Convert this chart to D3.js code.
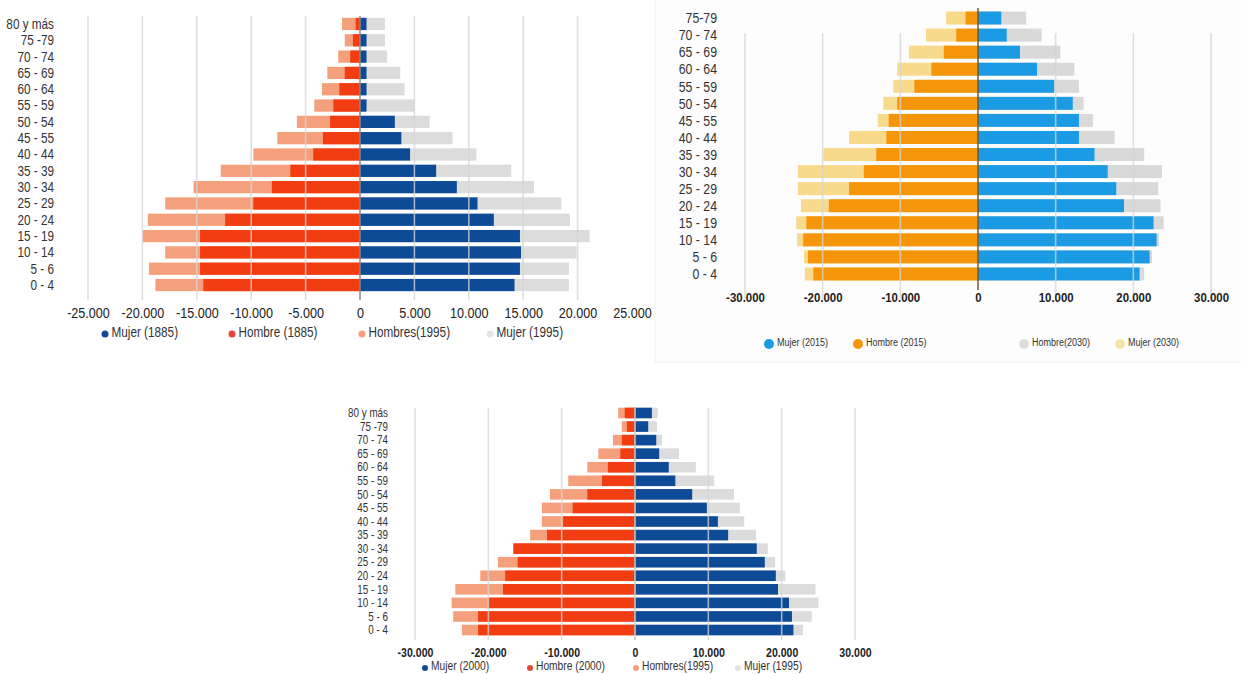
<!DOCTYPE html>
<html>
<head>
<meta charset="utf-8">
<script src="https://cdn.jsdelivr.net/npm/d3@7"></script>
<style>
  body { margin: 0; background: #fff; }
  svg { display: block; }
  svg text { font-family: 'Liberation Sans', Arial, sans-serif; }
</style>
</head>
<body>
<svg id="chart" width="1241" height="674"></svg>
<script>
// ---- categories (top to bottom)
const ages = ["80 y más", "75 -79", "70 - 74", "65 - 69", "60 - 64", "55 - 59", "50 - 54", "45 - 55",
              "40 - 44", "35 - 39", "30 - 34", "25 - 29", "20 - 24", "15 - 19", "10 - 14", "5 - 6", "0 - 4"];
const ages2 = ["75-79", "70 - 74", "65 - 69", "60 - 64", "55 - 59", "50 - 54", "45 - 55",
               "40 - 44", "35 - 39", "30 - 34", "25 - 29", "20 - 24", "15 - 19", "10 - 14", "5 - 6", "0 - 4"];

// ---- chart 1 (1885 vs 1995)
const hombre1885 = [400, 650, 900, 1400, 1900, 2450, 2750, 3400, 4300, 6400, 8100, 9800, 12400, 14700, 14700, 14700, 14400];
const hombres1995a = [1650, 1400, 2000, 3000, 3500, 4200, 5800, 7600, 9800, 12800, 15300, 17900, 19500, 20000, 17900, 19400, 18800];
const mujer1885 = [600, 600, 600, 600, 600, 600, 3200, 3800, 4600, 7000, 8900, 10800, 12300, 14700, 14800, 14700, 14200];
const mujer1995a = [2300, 2300, 2500, 3700, 4100, 5000, 6400, 8500, 10700, 13900, 16000, 18500, 19300, 21100, 19900, 19200, 19200];
const ticks1 = [-25000, -20000, -15000, -10000, -5000, 0, 5000, 10000, 15000, 20000, 25000];

// ---- chart 2 (2015 vs 2030)
const hombre2015 = [1600, 2800, 4400, 6000, 8200, 10400, 11500, 11800, 13100, 14700, 16600, 19200, 22100, 22500, 21900, 21200];
const mujer2030 = [4100, 6700, 8900, 10400, 10900, 12200, 12900, 16600, 19900, 23200, 23200, 22800, 23400, 23300, 22400, 22300];
const mujer2015 = [3000, 3700, 5400, 7600, 9800, 12200, 13000, 13000, 15000, 16700, 17800, 18800, 22600, 23000, 22100, 20800];
const hombre2030 = [6200, 8200, 10600, 12400, 13000, 13600, 14800, 17600, 21400, 23700, 23200, 23500, 23900, 23300, 22400, 21400];
const ticks2 = [-30000, -20000, -10000, 0, 10000, 20000, 30000];

// ---- chart 3 (2000 vs 1995)
const hombre2000 = [1400, 1100, 1800, 2000, 3700, 4500, 6500, 8500, 9800, 12000, 16600, 16000, 17700, 18000, 20000, 21400, 21400];
const hombres1995b = [2300, 1800, 3000, 5000, 6500, 9100, 11600, 12700, 12700, 14300, 16400, 18700, 21100, 24500, 25000, 24800, 23600];
const mujer2000 = [2300, 1800, 2900, 3300, 4600, 5500, 7800, 9800, 11300, 12700, 16600, 17700, 19200, 19500, 21000, 21400, 21600];
const mujer1995b = [3100, 3000, 3700, 6000, 8300, 10800, 13500, 14300, 14900, 16500, 18100, 19100, 20500, 24600, 25000, 24100, 22900];
const ticks3 = [-30000, -20000, -10000, 0, 10000, 20000, 30000];

const fmt = d3.formatLocale({decimal: ",", thousands: ".", grouping: [3], currency: ["", ""], minus: "-"}).format(",d");

const svg = d3.select("#chart");

// light panel behind the top-right chart
svg.append("rect")
  .attr("x", 655).attr("y", -1).attr("width", 590).attr("height", 363)
  .attr("fill", "#fdfdfd").attr("stroke", "#f2f2f2");

// squeeze text horizontally (the source uses a condensed face)
function squeeze(sel, sx) {
  sel.attr("transform", function() {
    const x = +d3.select(this).attr("x") || 0;
    const y = +d3.select(this).attr("y") || 0;
    d3.select(this).attr("x", 0).attr("y", 0);
    return `translate(${x},${y}) scale(${sx},1)`;
  });
}

function pyramid(cfg) {
  const g = svg.append("g");
  const x = d3.scaleLinear().domain(cfg.domain).range(cfg.xRange);
  const y = d3.scaleBand().domain(cfg.cats).range(cfg.yRange).paddingInner(cfg.pad).paddingOuter(cfg.pad / 2);

  // background series
  g.append("g").selectAll("rect").data(cfg.leftBack).join("rect")
    .attr("x", d => x(-d)).attr("width", d => x(0) - x(-d))
    .attr("y", (d, i) => y(cfg.cats[i])).attr("height", y.bandwidth())
    .attr("fill", cfg.colors.leftBack);
  g.append("g").selectAll("rect").data(cfg.rightBack).join("rect")
    .attr("x", x(0)).attr("width", d => x(d) - x(0))
    .attr("y", (d, i) => y(cfg.cats[i])).attr("height", y.bandwidth())
    .attr("fill", cfg.colors.rightBack);
  // front series
  g.append("g").selectAll("rect").data(cfg.leftFront).join("rect")
    .attr("x", d => x(-d)).attr("width", d => x(0) - x(-d))
    .attr("y", (d, i) => y(cfg.cats[i])).attr("height", y.bandwidth())
    .attr("fill", cfg.colors.leftFront);
  g.append("g").selectAll("rect").data(cfg.rightFront).join("rect")
    .attr("x", x(0)).attr("width", d => x(d) - x(0))
    .attr("y", (d, i) => y(cfg.cats[i])).attr("height", y.bandwidth())
    .attr("fill", cfg.colors.rightFront);

  // gridlines
  g.append("g").selectAll("line").data(cfg.grid.filter(d => d !== 0)).join("line")
    .attr("x1", d => x(d)).attr("x2", d => x(d))
    .attr("y1", cfg.gridY[0]).attr("y2", cfg.gridY[1])
    .attr("stroke", "#d4d4d4").attr("stroke-opacity", 0.75).attr("stroke-width", 1.6);
  g.append("line")
    .attr("x1", x(0)).attr("x2", x(0))
    .attr("y1", cfg.zeroY[0]).attr("y2", cfg.zeroY[1])
    .attr("stroke", cfg.zeroColor).attr("stroke-width", 1.5);

  // category labels
  g.append("g").selectAll("text").data(cfg.cats).join("text")
    .attr("x", cfg.labelX).attr("y", d => y(d) + y.bandwidth() / 2)
    .attr("dy", "0.35em").attr("text-anchor", "end")
    .style("font-size", cfg.labelSize + "px").attr("fill", "#333")
    .text(d => d)
    .call(squeeze, cfg.sx);

  // x axis
  g.append("g")
    .attr("transform", `translate(0,${cfg.axisY})`)
    .call(d3.axisBottom(x).tickValues(cfg.ticks).tickFormat(fmt).tickSize(0))
    .call(a => a.select(".domain").remove())
    .selectAll("text")
    .attr("font-family", null)
    .style("font-size", cfg.tickSize + "px")
    .style("font-weight", cfg.tickWeight || "normal").attr("fill", "#222")
    .call(squeeze, cfg.tickSx);

  // legend
  const lg = g.append("g");
  cfg.legend.forEach(l => {
    lg.append("circle").attr("cx", l.x).attr("cy", cfg.legendY + 2).attr("r", cfg.dotR).attr("fill", l.color);
    lg.append("text").attr("x", l.x + cfg.dotR + 3).attr("y", cfg.legendY).attr("dy", "0.35em")
      .style("font-size", cfg.legendSize + "px").attr("fill", "#333")
      .text(l.label)
      .call(squeeze, cfg.sx);
  });
}

const red = "#f23c12", salmon = "#f5a07c", navy = "#0d4b96", lgrey = "#dcdcdc";

pyramid({
  cats: ages, domain: [-25000, 25000], xRange: [88, 632], yRange: [15.8, 293.2], pad: 0.25,
  leftFront: hombre1885, leftBack: hombres1995a, rightFront: mujer1885, rightBack: mujer1995a,
  colors: {leftFront: red, leftBack: salmon, rightFront: navy, rightBack: lgrey},
  grid: [-25000, -20000, -15000, -10000, -5000, 5000, 10000, 15000, 20000],
  gridY: [16, 300], zeroY: [16, 300], zeroColor: "#8a8a8a",
  labelX: 54, labelSize: 14, sx: 0.84, ticks: ticks1, axisY: 304, tickSize: 15, tickSx: 0.84,
  legendY: 332, legendSize: 14, dotR: 3.5,
  legend: [
    {label: "Mujer (1885)", color: navy, x: 105},
    {label: "Hombre (1885)", color: "#e0463a", x: 232},
    {label: "Hombres(1995)", color: salmon, x: 362},
    {label: "Mujer (1995)", color: "#e4e4e4", x: 490}
  ]
});

const orange = "#f5960a", yellow = "#f8da8c", sky = "#1b9be3", grey2 = "#d9d9d9";

pyramid({
  cats: ages2, domain: [-30000, 30000], xRange: [745, 1211], yRange: [9.5, 282.5], pad: 0.24,
  leftFront: hombre2015, leftBack: mujer2030, rightFront: mujer2015, rightBack: hombre2030,
  colors: {leftFront: orange, leftBack: yellow, rightFront: sky, rightBack: grey2},
  grid: [-30000, -20000, -10000, 10000, 20000, 30000],
  gridY: [33, 300], zeroY: [8, 290], zeroColor: "#7a5632",
  labelX: 717, labelSize: 15, sx: 0.82, ticks: ticks2, axisY: 290, tickSize: 13, tickSx: 0.88, tickWeight: "bold",
  legendY: 342, legendSize: 11, dotR: 5,
  legend: [
    {label: "Mujer (2015)", color: sky, x: 769},
    {label: "Hombre (2015)", color: orange, x: 858},
    {label: "Hombre(2030)", color: "#dedede", x: 1024},
    {label: "Mujer (2030)", color: "#f3e6a6", x: 1120}
  ]
});

pyramid({
  cats: ages, domain: [-30000, 30000], xRange: [415, 855], yRange: [406.2, 636.8], pad: 0.22,
  leftFront: hombre2000, leftBack: hombres1995b, rightFront: mujer2000, rightBack: mujer1995b,
  colors: {leftFront: red, leftBack: salmon, rightFront: navy, rightBack: lgrey},
  grid: [-30000, -20000, -10000, 10000, 20000, 30000],
  gridY: [408, 640], zeroY: [408, 640], zeroColor: "#c8c8c8",
  labelX: 388, labelSize: 12, sx: 0.82, ticks: ticks3, axisY: 645, tickSize: 12, tickSx: 0.88, tickWeight: "bold",
  legendY: 666, legendSize: 12.5, dotR: 3,
  legend: [
    {label: "Mujer (2000)", color: navy, x: 425},
    {label: "Hombre (2000)", color: "#e0463a", x: 530},
    {label: "Hombres(1995)", color: salmon, x: 636},
    {label: "Mujer (1995)", color: "#e4e4e4", x: 738}
  ]
});
</script>
</body>
</html>
